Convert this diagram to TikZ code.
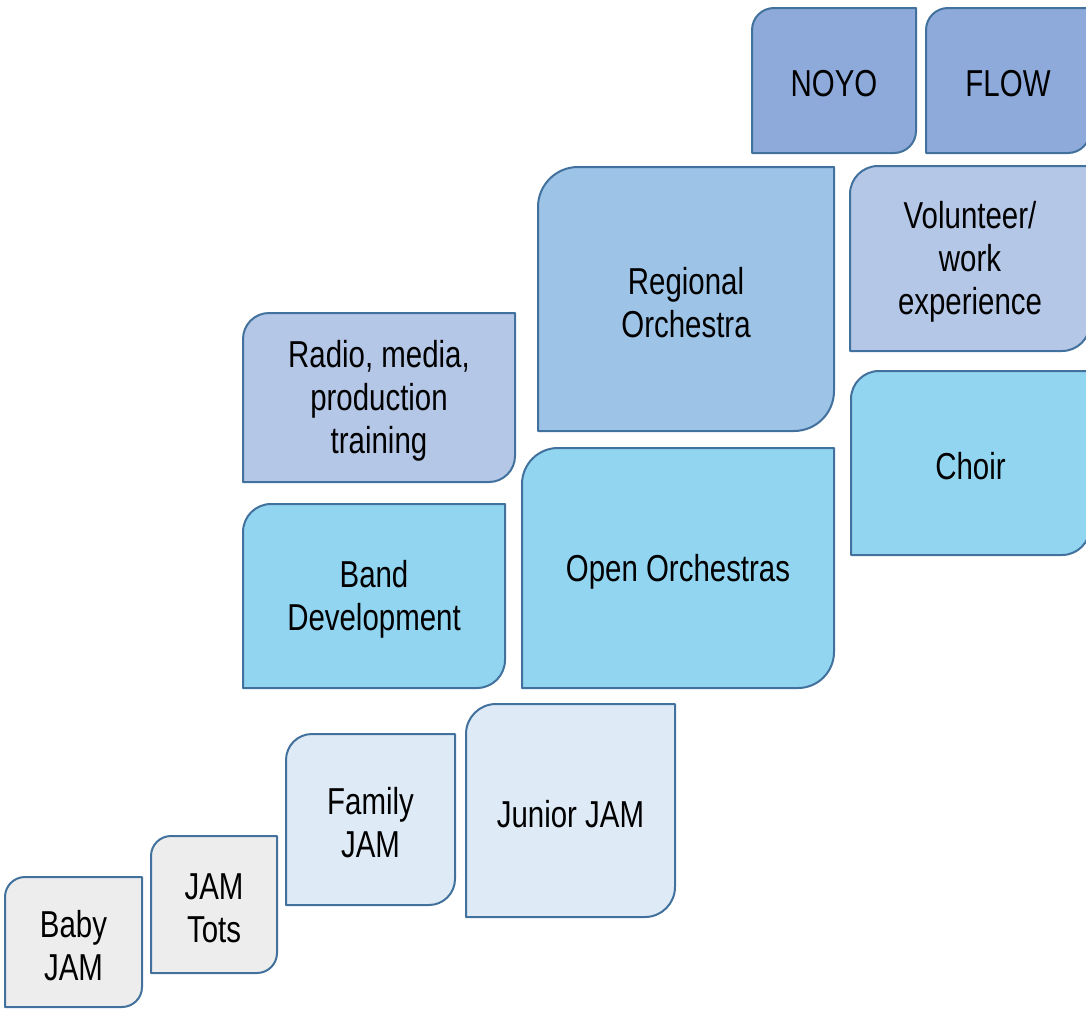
\documentclass[tikz,border=0pt]{standalone}
\usepackage{fontspec}
\setmainfont{Liberation Sans}[FakeStretch=0.785]
\usetikzlibrary{backgrounds}

\definecolor{edge}{HTML}{41719C}
\definecolor{topblue}{HTML}{8EAADB}
\definecolor{regblue}{HTML}{9DC3E6}
\definecolor{paleblue}{HTML}{B4C7E7}
\definecolor{skyblue}{HTML}{92D5F1}
\definecolor{iceblue}{HTML}{DEEBF7}
\definecolor{lightgrey}{HTML}{EDEDED}

\tikzset{
  boxframe/.style={inner sep=0pt, outer sep=0pt},
  boxtext/.style={inner sep=0pt, outer sep=0pt, align=center,
    font=\fontsize{37.5}{43}\selectfont, text=black},
  boxline/.style={draw=edge, line width=2pt, line join=round},
}

% Box with rounded top-left and bottom-right corners:
% #1 name, #2 x1, #3 y1, #4 x2, #5 y2, #6 fill colour, #7 corner radius, #8 text
\newcommand\jambox[8]{%
  \node[boxframe, minimum width={#4-#2}, minimum height={#5-#3}]
    (#1) at ({(#2+#4)/2},{(#3+#5)/2}) {};
  \node[boxtext] (#1-label) at ([yshift=-3.5pt]#1.center) {#8};
  \begin{scope}[on background layer]
    \draw[boxline, fill=#6] (#1.south west)
      -- ([yshift=-#7pt]#1.north west)
      arc[start angle=180, end angle=90, radius=#7pt]
      -- (#1.north east)
      -- ([yshift=#7pt]#1.south east)
      arc[start angle=0, end angle=-90, radius=#7pt]
      -- cycle;
  \end{scope}
}

\begin{document}
\begin{tikzpicture}[x=1pt, y=-1pt]
  \useasboundingbox (0,0) rectangle (1086,1009);
  \clip (0,0) rectangle (1086,1009);

  \jambox{noyo}{752}{8}{916}{153}{topblue}{22}{NOYO}
  \jambox{flow}{926}{8}{1090}{153}{topblue}{22}{FLOW}

  \jambox{regional}{538}{167}{834}{431}{regblue}{40}{Regional\\Orchestra}
  \jambox{volunteer}{850}{166}{1090}{351}{paleblue}{28}{Volunteer/\\work\\experience}

  \jambox{radio}{243}{313}{515}{482}{paleblue}{26}{Radio, media,\\production\\training}
  \jambox{choir}{851}{371}{1090}{555}{skyblue}{28}{Choir}

  \jambox{band}{243}{504}{505}{688}{skyblue}{28}{Band\\Development}
  \jambox{open}{522}{448}{834}{688}{skyblue}{36}{Open Orchestras}

  \jambox{family}{286}{734}{455}{905}{iceblue}{26}{Family\\JAM}
  \jambox{junior}{466}{704}{675}{917}{iceblue}{30}{Junior JAM}

  \jambox{tots}{151}{836}{277}{973}{lightgrey}{20}{JAM\\Tots}
  \jambox{baby}{5}{877}{142}{1007}{lightgrey}{20}{Baby\\JAM}
\end{tikzpicture}
\end{document}
